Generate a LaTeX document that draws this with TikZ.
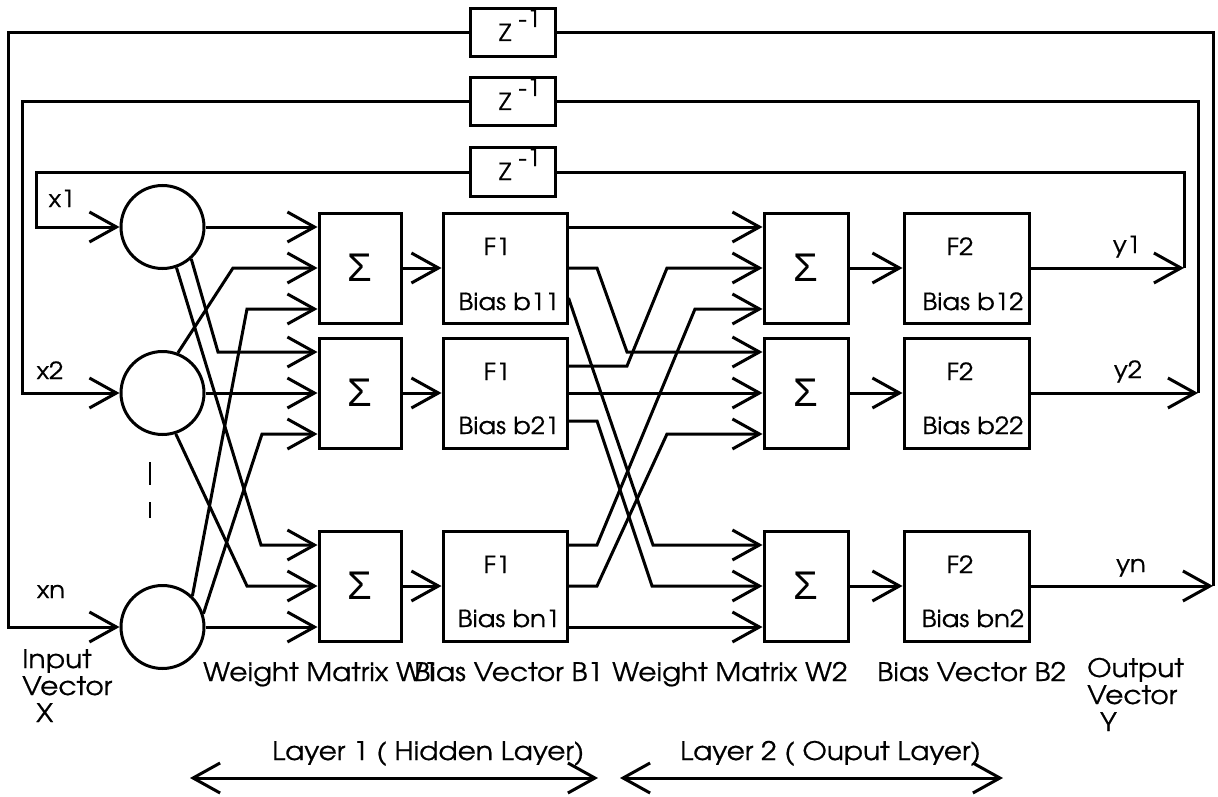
\documentclass[tikz,border=0pt]{standalone}
\usepackage{fontspec}
\setmainfont[FakeStretch=1.1,FakeBold=0.6]{TeX Gyre Adventor}
\newfontfamily\sigfont{Liberation Sans}
\usetikzlibrary{arrows.meta}
\begin{document}
\begin{tikzpicture}[x=1pt,y=-1pt,
  wire/.style={line width=3pt},
  barb/.tip={Straight Barb[length=27pt,width=30pt]},
  arr/.style={wire,-barb},
  blk/.style={draw,line width=3pt,inner sep=0pt,minimum height=110pt},
  sbox/.style={blk,minimum width=82pt,font=\sigfont\fontsize{40}{40}\selectfont},
  fbox/.style={blk,minimum width=124pt},
  zbox/.style={draw,line width=3pt,minimum width=85pt,minimum height=48pt,inner sep=0pt},
  neuron/.style={circle,draw,line width=3pt,minimum size=83pt,inner sep=0pt},
  txt/.style={font=\fontsize{23.5}{27}\selectfont,inner sep=0pt,anchor=base},
  txtw/.style={font=\fontsize{25.5}{27}\selectfont,inner sep=0pt,anchor=base west},
]
\useasboundingbox (0,0) rectangle (1218,797);

% neurons
\node[neuron] (c1) at (162.5,227) {};
\node[neuron] (c2) at (162.5,393) {};
\node[neuron] (c3) at (162.5,627) {};

% layer 1 summing boxes
\node[sbox] (s11) at (360,268) {Σ};
\node[sbox] (s12) at (360,393) {Σ};
\node[sbox] (s13) at (360,586) {Σ};
% layer 1 transfer boxes
\node[fbox] (f11) at (505,268) {};
\node[fbox] (f12) at (505,393) {};
\node[fbox] (f13) at (505,586) {};
% layer 2 summing boxes
\node[sbox,minimum width=84pt] (s21) at (806,268) {Σ};
\node[sbox,minimum width=84pt] (s22) at (806,393) {Σ};
\node[sbox,minimum width=84pt] (s23) at (806,586) {Σ};
% layer 2 transfer boxes
\node[fbox,minimum width=125pt] (f21) at (966.5,268) {};
\node[fbox,minimum width=125pt] (f22) at (966.5,393) {};
\node[fbox,minimum width=125pt] (f23) at (966.5,586) {};

% delay boxes
\node[zbox] (z1) at (512.5,33) {};
\node[zbox] (z2) at (512.5,102) {};
\node[zbox] (z3) at (512.5,172) {};
\node[txt] (zt1) at (520,41) {Z\hspace{7pt}\raisebox{14pt}{-1}};
\node[txt] (zt2) at (520,110) {Z\hspace{7pt}\raisebox{14pt}{-1}};
\node[txt] (zt3) at (520,180) {Z\hspace{7pt}\raisebox{14pt}{-1}};

% box texts
\node[txt] (t11) at (497,255) {F1};
\node[txt] (t12) at (497,380) {F1};
\node[txt] (t13) at (497,573) {F1};
\node[txt] (b11) at (509,310) {Bias b11};
\node[txt] (b12) at (509,434) {Bias b21};
\node[txt] (b13) at (509,627) {Bias bn1};
\node[txt] (t21) at (960,255) {F2};
\node[txt] (t22) at (960,380) {F2};
\node[txt] (t23) at (960,573) {F2};
\node[txt] (b21) at (973,310) {Bias b12};
\node[txt] (b22) at (973,434) {Bias b22};
\node[txt] (b23) at (973,627) {Bias bn2};

% signal labels
\node[txt] (lx1) at (62,207) {x1};
\node[txt] (lx2) at (50,379) {x2};
\node[txt] (lxn) at (51,598) {xn};
\node[txt] (ly1) at (1127,253) {y1};
\node[txt] (ly2) at (1128,378) {y2};
\node[txt] (lyn) at (1131,572) {yn};

% layer 1 connections
\draw[arr] (c1.east) -- (c1.east -| s11.west);
\draw[arr] (c1.-48) -- (218,352) -- ([yshift=41pt]s12.west);
\draw[arr] (c1.-71) -- (261,545) -- ([yshift=41pt]s13.west);
\draw[arr] (c2.69) -- (233,268) -- (s11.west);
\draw[arr] (c2.east) -- (s12.west);
\draw[arr] (c2.-72) -- (247,586) -- (s13.west);
\draw[arr] (c3.46) -- (247,309) -- ([yshift=-41pt]s11.west);
\draw[arr] (c3.18) -- (262,434) -- ([yshift=-41pt]s12.west);
\draw[arr] (c3.east) -- ([yshift=-41pt]s13.west);

% sum -> transfer
\draw[arr] (s11.east) -- (f11.west);
\draw[arr] (s12.east) -- (f12.west);
\draw[arr] (s13.east) -- (f13.west);
\draw[arr] (s21.east) -- (f21.west);
\draw[arr] (s22.east) -- (f22.west);
\draw[arr] (s23.east) -- (f23.west);

% layer 2 connections
\draw[arr] ([yshift=41pt]f11.east) -- ([yshift=41pt]s21.west);
\draw[arr] (f11.east) -- (597,268) -- (627,352) -- ([yshift=41pt]s22.west);
\draw[arr] ([yshift=-30pt]f11.east) -- (653,545) -- ([yshift=41pt]s23.west);
\draw[arr] ([yshift=27pt]f12.east) -- (627,366) -- (667,268) -- (s21.west);
\draw[arr] (f12.east) -- (s22.west);
\draw[arr] ([yshift=-28pt]f12.east) -- (597,421) -- (652,586) -- (s23.west);
\draw[arr] ([yshift=41pt]f13.east) -- (597,545) -- (695,309) -- ([yshift=-41pt]s21.west);
\draw[arr] (f13.east) -- (597,586) -- (667,434) -- ([yshift=-41pt]s22.west);
\draw[arr] ([yshift=-41pt]f13.east) -- ([yshift=-41pt]s23.west);

% feedback loops
\coordinate (o1) at (1184,268);
\coordinate (o2) at (1198,393);
\coordinate (o3) at (1213,586);
\coordinate (i1) at (36,227);
\coordinate (i2) at (22,393);
\coordinate (i3) at (8,627);
\draw[arr] (f21.east) -- (o1);
\draw[arr] (f22.east) -- (o2);
\draw[arr] (f23.east) -- (o3);
\draw[wire] (o1) |- (z3.east);
\draw[wire] (o2) |- (z2.east);
\draw[wire] (o3) |- (z1.east);
\draw[arr] (z3.west) -| (i1) -- (c1.west);
\draw[arr] (z2.west) -| (i2) -- (c2.west);
\draw[arr] (z1.west) -| (i3) -- (c3.west);

% ellipsis dashes
\draw[line width=2.2pt] (150,462) -- (150,485);
\draw[line width=2.2pt] (150,502) -- (150,518);

% bottom labels
\node[txtw] (in1) at (22,668) {Input};
\node[txtw] (in2) at (22,695) {Vector};
\node[txtw] (in3) at (36,722) {X};
\node[txtw] (ou1) at (1087,677) {Output};
\node[txtw] (ou2) at (1087,704) {Vector};
\node[txtw] (ou3) at (1100,731) {Y};
\node[txtw] (w1) at (203,681) {Weight Matrix W1};
\node[txtw] (bv1) at (414,681) {Bias Vector B1};
\node[txtw] (w2) at (612,681) {Weight Matrix W2};
\node[txtw] (bv2) at (877,681) {Bias Vector B2};
\node[txtw] (ly1t) at (272,760) {Layer 1 ( Hidden Layer)};
\node[txtw] (ly2t) at (680,760) {Layer 2 ( Ouput Layer)};

% layer extent arrows
\coordinate (la1) at (190,778);
\coordinate (lb1) at (598,778);
\coordinate (la2) at (620,778);
\coordinate (lb2) at (1003,778);
\draw[wire,barb-barb] (la1) -- (lb1);
\draw[wire,barb-barb] (la2) -- (lb2);
\end{tikzpicture}
\end{document}
